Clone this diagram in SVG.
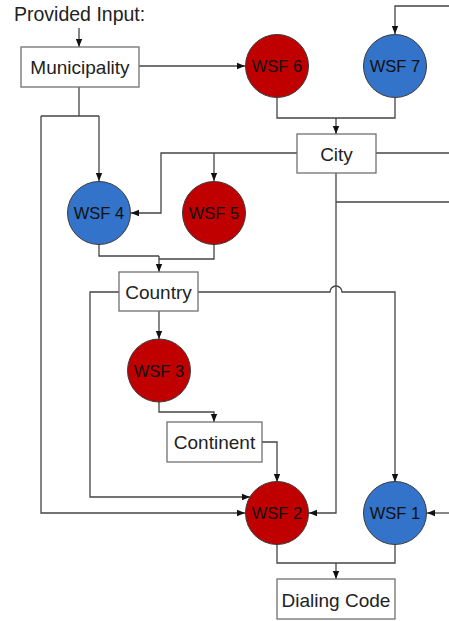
<svg xmlns="http://www.w3.org/2000/svg" width="449" height="621" viewBox="0 0 449 621">
<defs>
<marker id="ah" markerUnits="userSpaceOnUse" markerWidth="8" markerHeight="8" viewBox="0 0 8 8" refX="8" refY="4" orient="auto">
<path d="M0,0.8 L8,4 L0,7.2 Z" fill="#111"/>
</marker>
<style>
.c{fill:none;stroke:#444;stroke-width:1.3}
.a{marker-end:url(#ah)}
.box{fill:#fff;stroke:#707070;stroke-width:1.3}
.red{fill:#C00000;stroke:#3a3a3a;stroke-width:1}
.blue{fill:#3373C9;stroke:#3a3a3a;stroke-width:1}
.bt{font-family:"Liberation Sans",Arial,sans-serif;font-size:19px;fill:#222;text-anchor:middle}
.ct{font-family:"Liberation Sans",Arial,sans-serif;font-size:16.5px;fill:#111;text-anchor:middle}
</style>
</defs>
<rect width="449" height="621" fill="#fff"/>
<text x="14" y="21" font-family="Liberation Sans, Arial, sans-serif" font-size="19.5" fill="#222">Provided Input:</text>
<g id="connectors">
<path class="c a" d="M79,28 V47"/>
<path class="c a" d="M139,66 H245"/>
<path class="c a" d="M449,6 H395 V34"/>
<path class="c" d="M277,98 V118 H395 V98"/>
<path class="c a" d="M336,118 V134"/>
<path class="c" d="M79,87 V116 M41,116 H99"/>
<path class="c a" d="M99,116 V181"/>
<path class="c a" d="M41,116 V513 H245"/>
<path class="c a" d="M297,153 H161 V213 H131"/>
<path class="c a" d="M214,153 V181"/>
<path class="c" d="M376,153 H449"/>
<path class="c a" d="M336,173 V513 H309"/>
<path class="c" d="M336,202 H449"/>
<path class="c" d="M99,244 V256 H159 M214,244 V259 H159"/>
<path class="c a" d="M159,256 V272"/>
<path class="c a" d="M119,292 H90 V497 H250"/>
<path class="c a" d="M198,292 H330 A6,6 0 0 1 342,292 H395 V482"/>
<path class="c a" d="M159,311 V339"/>
<path class="c a" d="M159,402 V412 H214 V422"/>
<path class="c a" d="M262,442 H277 V482"/>
<path class="c a" d="M449,513 H427"/>
<path class="c" d="M277,544 V563 H395 V544"/>
<path class="c a" d="M336,563 V579"/>
</g>
<g id="municipality"><rect class="box" x="21" y="47" width="118" height="40"/><text class="bt" x="80" y="73.5">Municipality</text></g>
<g id="wsf6"><circle class="red" cx="277" cy="66" r="31.5"/><text class="ct" x="277" y="72">WSF 6</text></g>
<g id="wsf7"><circle class="blue" cx="395" cy="66" r="31.5"/><text class="ct" x="395" y="72">WSF 7</text></g>
<g id="city"><rect class="box" x="297" y="134" width="79" height="39"/><text class="bt" x="336.5" y="160.5">City</text></g>
<g id="wsf4"><circle class="blue" cx="99" cy="213" r="31.5"/><text class="ct" x="99" y="219">WSF 4</text></g>
<g id="wsf5"><circle class="red" cx="214" cy="213" r="31.5"/><text class="ct" x="214" y="219">WSF 5</text></g>
<g id="country"><rect class="box" x="119" y="272" width="79" height="39"/><text class="bt" x="158.5" y="298.5">Country</text></g>
<g id="wsf3"><circle class="red" cx="159" cy="370.5" r="31.5"/><text class="ct" x="159" y="376.5">WSF 3</text></g>
<g id="continent"><rect class="box" x="167" y="422" width="95" height="40"/><text class="bt" x="214.5" y="448.5">Continent</text></g>
<g id="wsf2"><circle class="red" cx="277" cy="513" r="31.5"/><text class="ct" x="277" y="519">WSF 2</text></g>
<g id="wsf1"><circle class="blue" cx="395" cy="513" r="31.5"/><text class="ct" x="395" y="519">WSF 1</text></g>
<g id="dialing-code"><rect class="box" x="277" y="579" width="118" height="40"/><text class="bt" x="336" y="606.5">Dialing Code</text></g>
</svg>
